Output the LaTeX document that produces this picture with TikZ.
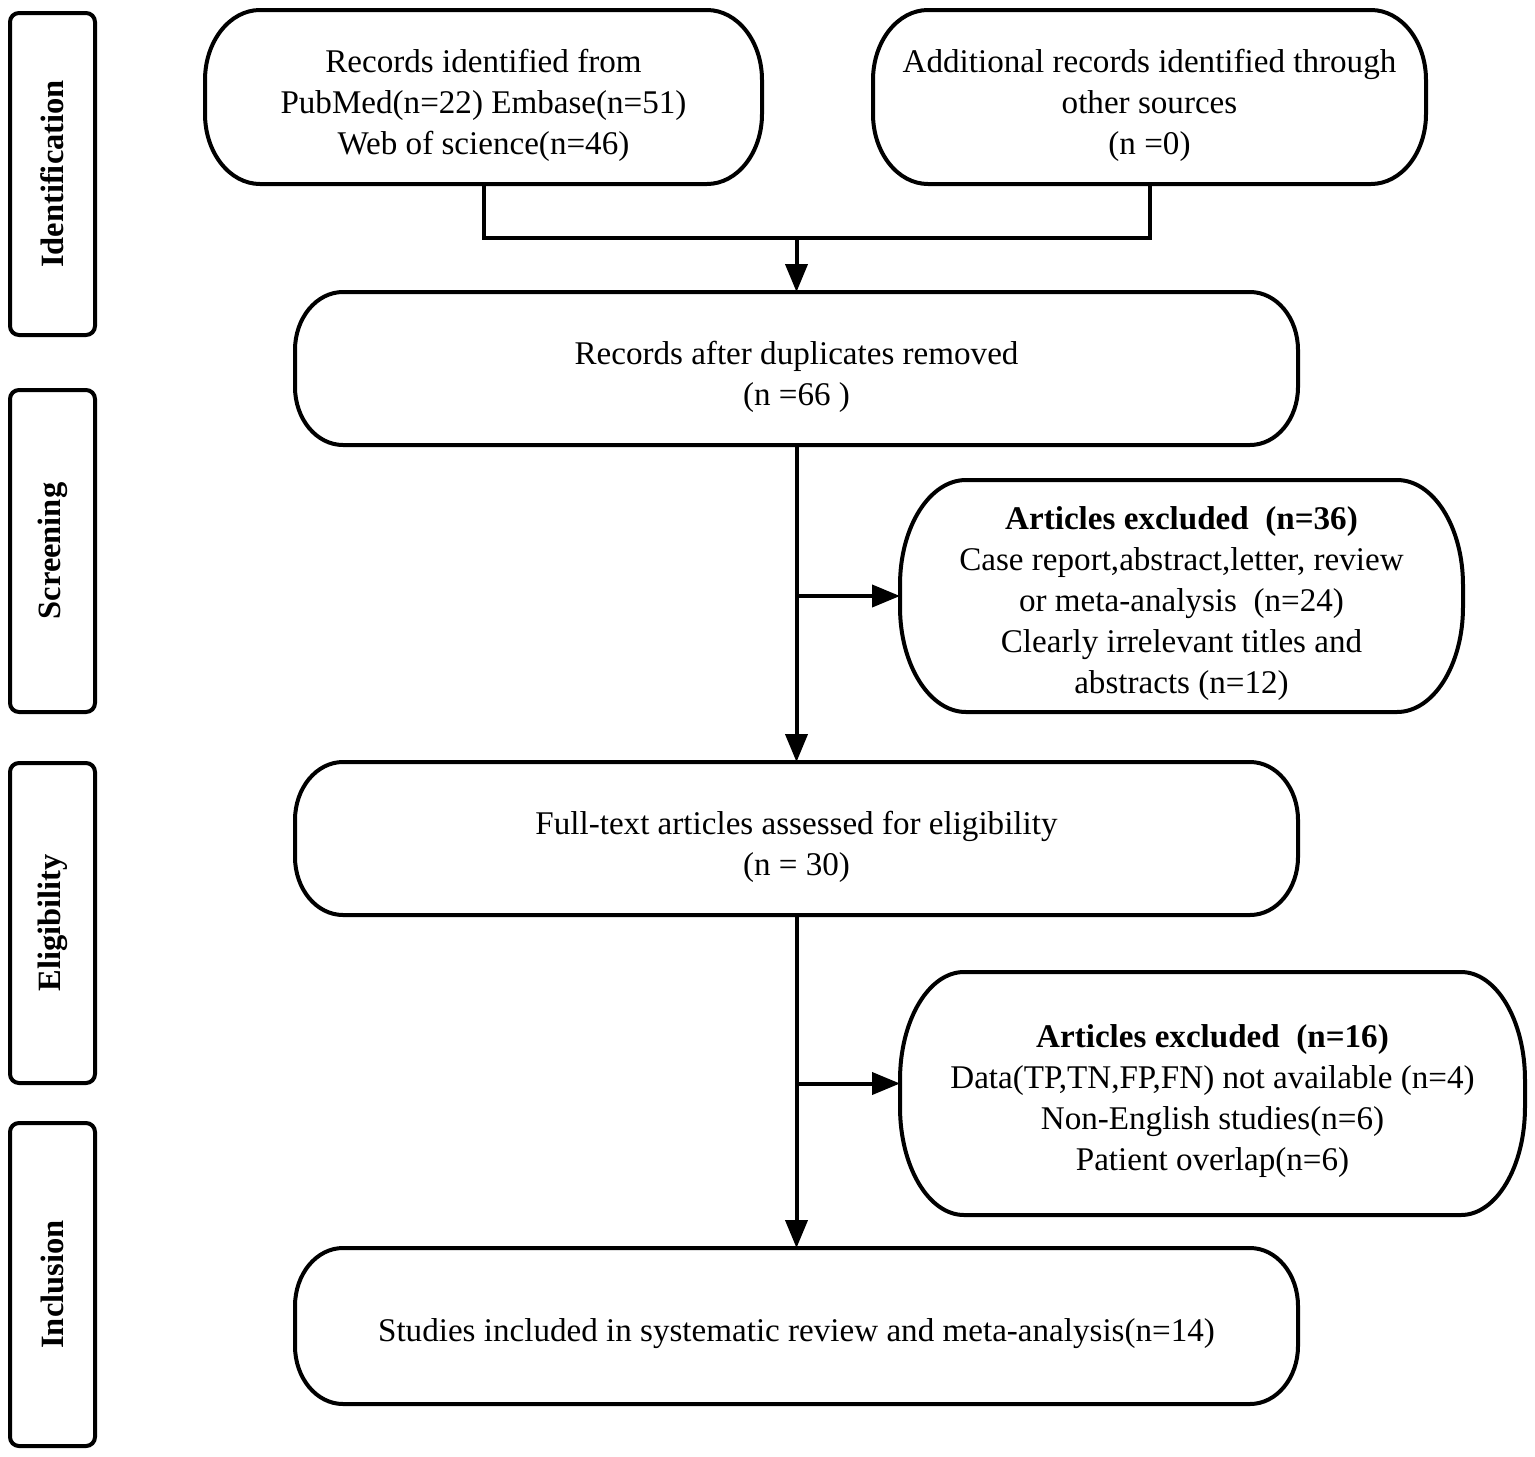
\documentclass[tikz,border=0pt]{standalone}
\usepackage{fontspec}
\setmainfont{Liberation Serif}
\usetikzlibrary{arrows.meta,calc}
\tikzset{
  bline/.style={line width=4pt,black},
  box/.style={minimum width=#1,outer sep=0pt,inner sep=0pt},
  txt/.style={inner sep=0pt,align=center,font=\fontsize{33.1}{41}\selectfont},
  side/.style={draw,line width=4pt,rounded corners=9pt,minimum width=85pt,
     minimum height=#1,outer sep=0pt,inner sep=0pt},
  sidetext/.style={rotate=90,font=\fontsize{32.5}{40}\selectfont\bfseries},
  arr/.style={bline,-{Triangle[length=28pt,width=22pt]}}
}
\newcommand\rbx[3]{\draw[bline] ([xshift=#2]#1.north west) -- ([xshift=-#2]#1.north east)
  arc[start angle=90,end angle=0,x radius=#2,y radius=#3] -- ([yshift=#3]#1.south east)
  arc[start angle=0,end angle=-90,x radius=#2,y radius=#3] -- ([xshift=#2]#1.south west)
  arc[start angle=270,end angle=180,x radius=#2,y radius=#3] -- ([yshift=-#3]#1.north west)
  arc[start angle=180,end angle=90,x radius=#2,y radius=#3] -- cycle;}
\begin{document}
\begin{tikzpicture}[x=1pt,y=1pt]
\fill[white] (0,0) rectangle (1535,-1457);
\useasboundingbox (0,0) rectangle (1535,-1457);

% side labels
\node[side=322pt] (sid) at (52.5,-174) {};
\node[sidetext] (sidt) at (sid) {Identification};
\node[side=322pt] (ssc) at (52.5,-551) {};
\node[sidetext] (ssct) at (ssc) {Screening};
\node[side=320pt] (sel) at (52.5,-923) {};
\node[sidetext] (selt) at (sel) {Eligibility};
\node[side=323pt] (sin) at (52.5,-1284.5) {};
\node[sidetext] (sint) at (sin) {Inclusion};

% main boxes
\node[box=557pt,minimum height=174pt] (tl) at (483.5,-97) {};
\node[box=553pt,minimum height=174pt] (tr) at (1149.5,-97) {};
\node[box=1003pt,minimum height=153pt] (dup) at (796.5,-368.5) {};
\node[box=563pt,minimum height=232pt] (ex1) at (1181.5,-596) {};
\node[box=1003pt,minimum height=153pt] (elig) at (796.5,-838.5) {};
\node[box=625pt,minimum height=243pt] (ex2) at (1212.5,-1093.5) {};
\node[box=1003pt,minimum height=156pt] (incl) at (796.5,-1326) {};

\node[txt] (tlt) at ([yshift=-8pt]tl.center)
  {Records identified from\\PubMed(n=22) Embase(n=51)\\Web of science(n=46)};
\node[txt] (trt) at ([yshift=-8pt]tr.center)
  {Additional records identified through\\other sources\\(n =0)};
\node[txt] (dupt) at ([yshift=-8pt]dup.center)
  {Records after duplicates removed\\(n =66 )};
\node[txt] (ex1t) at ([yshift=-8pt]ex1.center)
  {\textbf{Articles excluded\ \ (n=36)}\\Case report,abstract,letter, review\\or meta-analysis\ \ (n=24)\\Clearly irrelevant titles and\\abstracts (n=12)};
\node[txt] (eligt) at ([yshift=-8pt]elig.center)
  {Full-text articles assessed for eligibility\\(n = 30)};
\node[txt] (ex2t) at ([yshift=-8pt]ex2.center)
  {\textbf{Articles excluded\ \ (n=16)}\\Data(TP,TN,FP,FN) not available (n=4)\\Non-English studies(n=6)\\Patient overlap(n=6)};
\node[txt] (inclt) at ([yshift=-8pt]incl.center)
  {Studies included in systematic review and meta-analysis(n=14)};

\rbx{tl}{55pt}{70pt}
\rbx{tr}{55pt}{70pt}
\rbx{dup}{48pt}{58pt}
\rbx{elig}{48pt}{58pt}
\rbx{incl}{48pt}{58pt}
\rbx{ex1}{66pt}{105pt}
\rbx{ex2}{64pt}{108pt}

% connectors
\coordinate (j) at (796.5,-238);
\draw[bline] (tl.south) -- (tl.south |- j) -- (tr.south |- j) -- (tr.south);
\draw[arr] (j) -- (dup.north);
\draw[arr] (dup.south) -- (elig.north);
\draw[arr] (dup.south |- ex1.west) -- (ex1.west);
\draw[arr] (elig.south) -- (incl.north);
\coordinate (b2) at ([yshift=10pt]ex2.west);
\draw[arr] (elig.south |- b2) -- (b2);
\end{tikzpicture}
\end{document}
